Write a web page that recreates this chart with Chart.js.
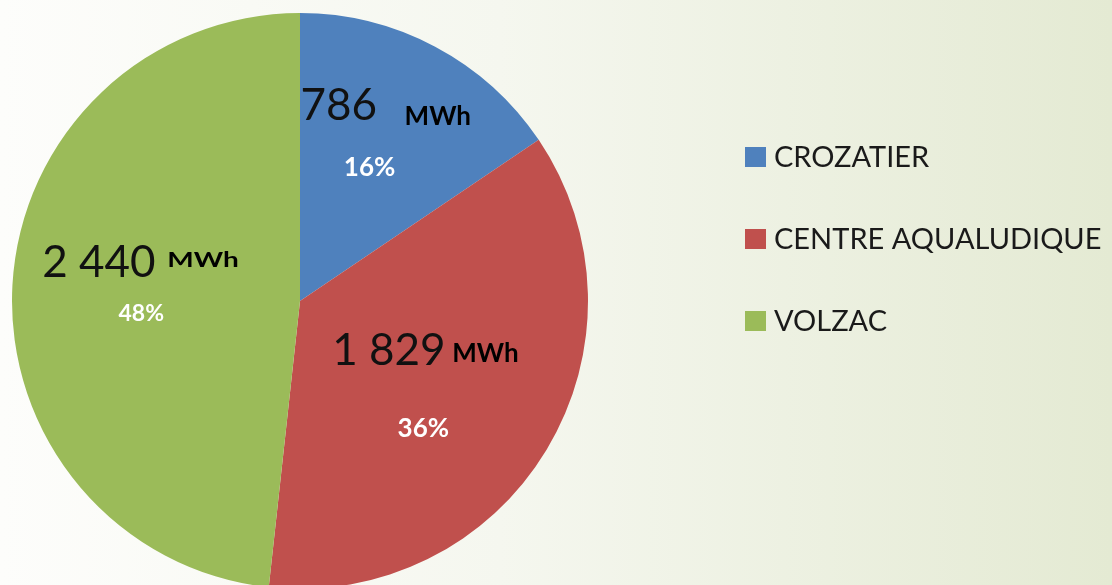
<!DOCTYPE html>
<html>
<head>
<meta charset="utf-8">
<script src="https://cdn.jsdelivr.net/npm/chart.js@4"></script>
<style>
  html, body { margin: 0; padding: 0; overflow: hidden; }
  body {
    width: 1112px; height: 585px;
    background: linear-gradient(to right, #fdfdfb 0%, #f5f7ef 45%, #e4ead3 100%);
  }
  #wrap { width: 1112px; height: 585px; overflow: hidden; }
</style>
</head>
<body>
<div id="wrap"><canvas id="myChart" width="1112" height="600"></canvas></div>
<script>
// data
const labels = ['CROZATIER', 'CENTRE AQUALUDIQUE', 'VOLZAC']
const values = [786, 1829, 2440]
const colors = ['#4f81bd', '#c0504d', '#9bbb59']
const unit = 'MWh'

// label offsets from each slice centroid (style only)
const labelStyle = [
    { num: [-67, -54], unit: [37, -49], unitFont: 'bold 26px Lato', unitStretch: 1, pct: [2, 2], pctFont: 'bold 26px Lato' },
    { num: [-91, -10], unit: [29, -13], unitFont: 'bold 26px Lato', unitStretch: 1, pct: [0, 62], pctFont: 'bold 26px Lato' },
    { num: [-114, -16], unit: [11, -26], unitFont: 'bold 20px Lato', unitStretch: 1.4, pct: [-15, 28], pctFont: 'bold 23px Lato' }
]

function formatNumber(v) {
    return String(v).replace(/\B(?=(\d{3})+(?!\d))/g, ' ')
}

const total = values.reduce((a, b) => a + b, 0)

const sliceLabels = {
    id: 'sliceLabels',
    afterDatasetsDraw(chart) {
        const ctx = chart.ctx
        const meta = chart.getDatasetMeta(0)
        meta.data.forEach((arc, i) => {
            const p = arc.tooltipPosition()
            const s = labelStyle[i]
            ctx.save()
            ctx.textBaseline = 'alphabetic'
            // number
            ctx.fillStyle = '#111'
            ctx.textAlign = 'left'
            ctx.font = '44px Lato'
            ctx.fillText(formatNumber(values[i]), p.x + s.num[0], p.y + s.num[1])
            // unit
            ctx.font = s.unitFont
            ctx.save()
            ctx.translate(p.x + s.unit[0], p.y + s.unit[1])
            ctx.scale(s.unitStretch, 1)
            ctx.fillStyle = '#000'
            ctx.fillText(unit, 0, 0)
            ctx.restore()
            // percent
            ctx.fillStyle = '#ffffff'
            ctx.textAlign = 'center'
            ctx.font = s.pctFont
            ctx.fillText(Math.round(values[i] / total * 100) + '%', p.x + s.pct[0], p.y + s.pct[1])
            ctx.restore()
        })
    },
    afterDraw(chart) {
        // legend on the right
        const ctx = chart.ctx
        ctx.save()
        ctx.font = '29px Lato'
        ctx.textBaseline = 'middle'
        ctx.textAlign = 'left'
        labels.forEach((l, i) => {
            const y = 157 + i * 82
            ctx.fillStyle = colors[i]
            ctx.fillRect(745, y - 10, 21, 20)
            ctx.fillStyle = '#1a1a1a'
            ctx.fillText(l, 774, y + 1)
        })
        ctx.restore()
    }
}

const ctx = document.getElementById('myChart')
new Chart(ctx, {
    type: 'pie',
    data: {
        labels: labels,
        datasets: [{
            data: values,
            backgroundColor: colors,
            borderWidth: 0
        }]
    },
    options: {
        responsive: false,
        animation: false,
        layout: {
            padding: { left: 12, right: 524, top: 13, bottom: 11 }
        },
        plugins: {
            legend: { display: false },
            tooltip: { enabled: false }
        }
    },
    plugins: [sliceLabels]
});
</script>
</body>
</html>
